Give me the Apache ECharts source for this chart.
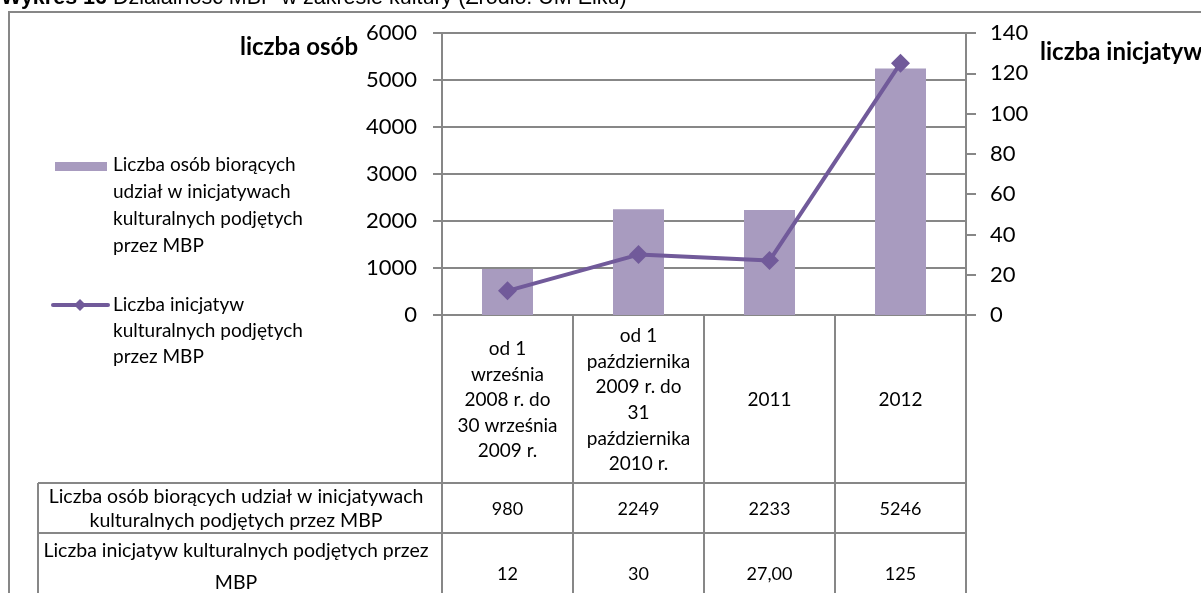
<!DOCTYPE html>
<html>
<head>
<meta charset="utf-8">
<script src="https://cdn.jsdelivr.net/npm/echarts@6/dist/echarts.min.js"></script>
<style>
  html, body { margin: 0; padding: 0; background: #fff; }
  #chart { width: 1201px; height: 593px; }
</style>
</head>
<body>
<div id="chart"></div>
<script>
// Periods (categories) of the cultural activity report
const categories = [
  'od 1\nwrześnia\n2008 r. do\n30 września\n2009 r.',
  'od 1\npaździernika\n2009 r. do\n31\npaździernika\n2010 r.',
  '2011',
  '2012'
];
// Number of participants (left axis, bars)
const participants = [980, 2249, 2233, 5246];
// Number of cultural initiatives (right axis, line)
const initiatives = [12, 30, 27, 125];
// Values as printed in the data table
const participantsText = ['980', '2249', '2233', '5246'];
const initiativesText = ['12', '30', '27,00', '125'];

const seriesNames = [
  'Liczba osób biorących udział w inicjatywach kulturalnych podjętych przez MBP',
  'Liczba inicjatyw kulturalnych podjętych przez MBP'
];
const legendLines = [
  ['Liczba osób biorących', 'udział w inicjatywach', 'kulturalnych podjętych', 'przez MBP'],
  ['Liczba inicjatyw', 'kulturalnych podjętych', 'przez MBP']
];
const tableRowLabels = [
  ['Liczba osób biorących udział w inicjatywach', 'kulturalnych podjętych przez MBP'],
  ['Liczba inicjatyw kulturalnych podjętych przez', 'MBP']
];
const leftTicks = { min: 0, max: 6000, interval: 1000 };
const rightTicks = { min: 0, max: 140, interval: 20 };

const FONT = 'Lato, "Open Sans", sans-serif';
const GREY = '#878787';
const BAR = '#A89BBF';
const LINE = '#715A9A';

const chart = echarts.init(document.getElementById('chart'), null, { renderer: 'canvas' });

const GRID = { left: 442, right: 235, top: 33, bottom: 278 };
const AXIS_Y = 593 - GRID.bottom;   // y of category axis
const ROW1 = 483, ROW2 = 533, TABLE_LEFT = 38;

chart.setOption({
  animation: false,
  backgroundColor: '#fff',
  grid: GRID,
  xAxis: {
    type: 'category',
    data: categories,
    axisLine: { show: true, lineStyle: { color: GREY, width: 2 } },
    axisTick: { show: true, inside: false, length: 593 - AXIS_Y, lineStyle: { color: GREY, width: 2 } },
    axisLabel: { show: false }
  },
  yAxis: [
    {
      type: 'value', min: leftTicks.min, max: leftTicks.max, interval: leftTicks.interval,
      position: 'left',
      axisLine: { show: true, lineStyle: { color: GREY, width: 2 } },
      axisTick: { show: true, length: 9, lineStyle: { color: GREY, width: 2 } },
      splitLine: { show: true, lineStyle: { color: GREY, width: 2 } },
      axisLabel: { color: '#000', fontSize: 22, fontFamily: FONT, margin: 25,
        formatter: v => String(v) }
    },
    {
      type: 'value', min: rightTicks.min, max: rightTicks.max, interval: rightTicks.interval,
      position: 'right',
      axisLine: { show: true, lineStyle: { color: GREY, width: 2 } },
      axisTick: { show: true, length: 10, lineStyle: { color: GREY, width: 2 } },
      splitLine: { show: false },
      axisLabel: { color: '#000', fontSize: 22, fontFamily: FONT, margin: 24,
        formatter: v => String(v) }
    }
  ],
  series: [
    {
      name: seriesNames[0], type: 'bar', yAxisIndex: 0, data: participants,
      barWidth: 51, itemStyle: { color: BAR }
    },
    {
      name: seriesNames[1], type: 'line', yAxisIndex: 1, data: initiatives,
      symbol: 'diamond', symbolSize: 19,
      lineStyle: { color: LINE, width: 4 },
      itemStyle: { color: LINE }
    }
  ]
});

// Surrounding frame, title, axis names, legend and data table
function buildGraphics() {
  const g = [];
  const centers = categories.map((c, i) => chart.convertToPixel({ xAxisIndex: 0 }, i));
  const plotRight = 1201 - GRID.right;
  const txt = (x, y, text, size, opts) => ({ type: 'text', x, y, style: Object.assign({
    text, fill: '#000', font: size + 'px ' + FONT, verticalAlign: 'middle' }, opts || {}) });

  g.push({ type: 'polyline', shape: { points: [[9, 593], [9, 12], [1201, 12]] },
    style: { stroke: GREY, lineWidth: 2, fill: null } });

  const TF = '"Liberation Sans", Arial, sans-serif';
  g.push({ type: 'text', x: 1, y: 9, style: {
    text: '{b|Wykres 16} Działalność MBP w zakresie kultury (Źródło: UM Ełku)',
    font: '21.5px ' + TF, fill: '#000', verticalAlign: 'bottom',
    rich: { b: { fontWeight: 'bold', fontSize: 21.5, fontFamily: TF } }
  } });

  g.push(txt(358, 47, 'liczba osób', 24, { font: 'bold 24px ' + FONT, align: 'right' }));
  g.push(txt(1040, 52, 'liczba inicjatyw', 24, { font: 'bold 24px ' + FONT, align: 'left' }));

  // legend
  g.push({ type: 'rect', shape: { x: 55, y: 162, width: 52, height: 9 }, style: { fill: BAR } });
  legendLines[0].forEach((t, i) => g.push(txt(113, 165 + i * 27, t, 19)));
  g.push({ type: 'line', shape: { x1: 53, y1: 305, x2: 108, y2: 305 },
    style: { stroke: LINE, lineWidth: 4, lineCap: 'round' } });
  g.push({ type: 'polygon', shape: { points: [[80, 299], [86, 305], [80, 311], [74, 305]] },
    style: { fill: LINE } });
  legendLines[1].forEach((t, i) => g.push(txt(113, 305 + i * 26, t, 19)));

  // table rules
  [ROW1, ROW2].forEach(y => g.push({ type: 'line', shape: { x1: TABLE_LEFT, y1: y, x2: plotRight, y2: y },
    style: { stroke: GREY, lineWidth: 2 } }));
  g.push({ type: 'line', shape: { x1: TABLE_LEFT, y1: ROW1, x2: TABLE_LEFT, y2: 593 },
    style: { stroke: GREY, lineWidth: 2 } });

  // category header cells
  categories.forEach((c, i) => g.push(txt(centers[i], (AXIS_Y + ROW1) / 2 + 1, c, 19,
    { align: 'center', lineHeight: 25.6 })));

  // row labels
  const labelCx = 236;
  tableRowLabels[0].forEach((t, i) => g.push(txt(labelCx, 497 + i * 24, t, 19.5, { align: 'center' })));
  tableRowLabels[1].forEach((t, i) => g.push(txt(labelCx, 551 + i * 32, t, 19.5, { align: 'center' })));

  // values
  participantsText.forEach((t, i) => g.push(txt(centers[i], 509, t, 18, { align: 'center' })));
  initiativesText.forEach((t, i) => g.push(txt(centers[i], 574, t, 18, { align: 'center' })));

  return g;
}

chart.setOption({ graphic: { elements: buildGraphics() } });
</script>
</body>
</html>
